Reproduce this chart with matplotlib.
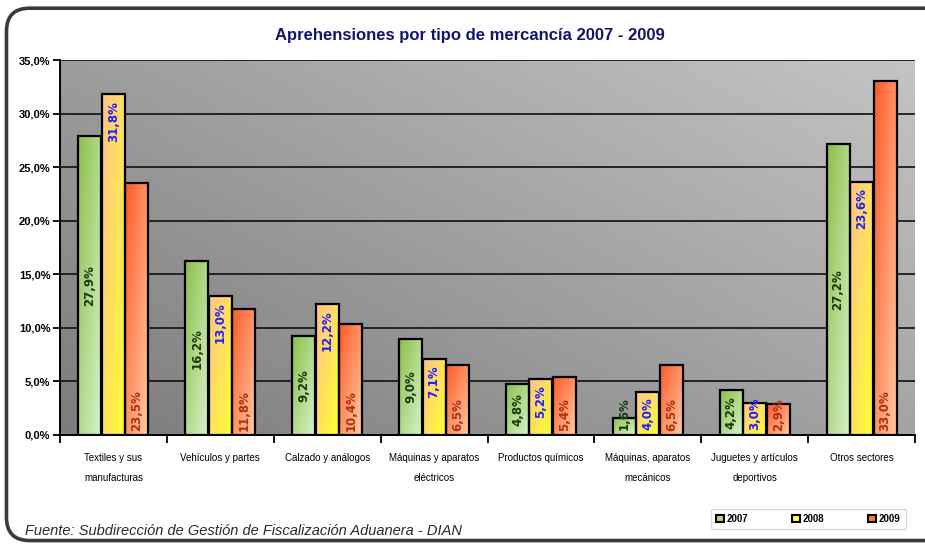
import numpy as np
import matplotlib
matplotlib.use('Agg')
import matplotlib.pyplot as plt
from matplotlib.colors import LinearSegmentedColormap
from matplotlib.patches import FancyBboxPatch, Patch

plt.rcParams['font.family'] = ['Liberation Sans Narrow', 'Liberation Sans', 'DejaVu Sans']

categorias = ['Textiles y sus\nmanufacturas', 'Vehículos y partes', 'Calzado y análogos',
              'Máquinas y aparatos\neléctricos', 'Productos químicos',
              'Máquinas, aparatos\nmecánicos', 'Juguetes y artículos\ndeportivos',
              'Otros sectores']
anios = ['2007', '2008', '2009']
v2007 = [27.9, 16.2, 9.2, 9.0, 4.8, 1.6, 4.2, 27.2]
v2008 = [31.8, 13.0, 12.2, 7.1, 5.2, 4.0, 3.0, 23.6]
v2009 = [23.5, 11.8, 10.4, 6.5, 5.4, 6.5, 2.9, 33.0]
yticks = [0, 5, 10, 15, 20, 25, 30, 35]

# gradient ends (top-left -> bottom-right) for each series
grad_cols = [('#8cbf4a', '#d6f2c8'), ('#ffc38a', '#ffff30'), ('#ff5a28', '#ffc9a0')]
legend_cols = ['#a8dc80', '#ffff40', '#ff7a40']
label_cols = ['#1c3a10', '#2020ff', '#b03010']


def fmt(v):
    return ('%.1f%%' % v).replace('.', ',')


fig = plt.figure(figsize=(9.25, 5.46), dpi=100)

# outer rounded frame (right side runs off the picture)
frame = FancyBboxPatch((0.007, 0.01), 1.05, 0.975, boxstyle='round,pad=0,rounding_size=0.025',
                       transform=fig.transFigure, fill=False, lw=2.6, ec='#3a3a3a',
                       mutation_aspect=925 / 546.)
fig.patches.append(frame)

ax = fig.add_axes([0.0649, 0.2033, 0.9243, 0.6868])

# grey background
xx, yy = np.meshgrid(np.linspace(0, 1, 200), np.linspace(0, 1, 100))
bg = 0.55 * xx + 0.45 * (1 - yy)
bg_cmap = LinearSegmentedColormap.from_list('bg', ['#7c7c7c', '#c4c4c4'])
ax.imshow(bg, extent=[0, 1, 0, 1], transform=ax.transAxes, cmap=bg_cmap,
          aspect='auto', zorder=0, origin='upper')

for t in yticks[1:]:
    ax.axhline(t, color='#1a1a1a', lw=1.3, zorder=1)

x = np.arange(len(categorias))
w = 0.215
series = [v2007, v2008, v2009]
offs = [-0.22, 0, 0.22]
gx, gy = np.meshgrid(np.linspace(0, 1, 30), np.linspace(0, 1, 60))
g = (gx + gy) / 2.0

for k, vals in enumerate(series):
    cmap = LinearSegmentedColormap.from_list('c%d' % k, grad_cols[k])
    bars = ax.bar(x + offs[k], vals, w, facecolor='none', edgecolor='black', lw=1.6, zorder=4)
    for b in bars:
        x0 = b.get_x()
        h = b.get_height()
        im = ax.imshow(g, extent=[x0, x0 + b.get_width(), 0, h], cmap=cmap,
                       aspect='auto', zorder=3, origin='upper')
        im.set_clip_path(b)
    for i, v in enumerate(vals):
        kw = dict(rotation=90, ha='center', fontsize=8.5, fontweight='bold',
                  color=label_cols[k], zorder=5, family=['DejaVu Sans'])
        if k == 0:
            ax.text(x[i] + offs[k], max(v / 2, 2.0), fmt(v), va='center', **kw)
        elif k == 1:
            if v - 0.6 < 4.0:
                ax.text(x[i] + offs[k], 0.45, fmt(v), va='bottom', **kw)
            else:
                ax.text(x[i] + offs[k], v - 0.6, fmt(v), va='top', **kw)
        else:
            ax.text(x[i] + offs[k], 0.35, fmt(v), va='bottom', **kw)

ax.set_xlim(-0.5, len(categorias) - 0.5)
ax.set_ylim(0, 35)
ax.set_yticks(yticks)
ax.set_yticklabels([fmt(t) for t in yticks], fontsize=8, fontweight='bold')
ax.set_xticks(np.arange(len(categorias) + 1) - 0.5)
ax.set_xticklabels([])
ax.set_xticks(x, minor=True)
ax.set_xticklabels(categorias, minor=True, fontsize=7, linespacing=2.3, va='top')
ax.tick_params(axis='x', which='minor', length=0, pad=13)
ax.tick_params(axis='x', which='major', length=6, width=1.3, direction='out')
ax.tick_params(axis='y', length=5, width=1.3, pad=2)
for s in ['top', 'right']:
    ax.spines[s].set_visible(False)
for s in ['left', 'bottom']:
    ax.spines[s].set_linewidth(1.4)

fig.text(0.508, 0.935, 'Aprehensiones por tipo de mercancía 2007 - 2009', ha='center',
         va='center', fontsize=12, fontweight='bold', color='#14146e')
fig.text(0.027, 0.028, 'Fuente: Subdirección de Gestión de Fiscalización Aduanera - DIAN',
         ha='left', va='center', fontsize=10.5, style='italic', color='#2a2a2a')

handles = [Patch(facecolor=legend_cols[k], edgecolor='black', lw=1.5) for k in range(3)]
leg = fig.legend(handles, anios, loc='center', bbox_to_anchor=(0.874, 0.05), ncol=3,
                 fontsize=7, frameon=True, handlelength=0.8, handleheight=0.8,
                 handletextpad=0.3, columnspacing=4.5, borderpad=0.5)
leg.get_frame().set_edgecolor('#d0d0d0')
for t in leg.get_texts():
    t.set_fontweight('bold')

fig.savefig('out.png', dpi=100)
